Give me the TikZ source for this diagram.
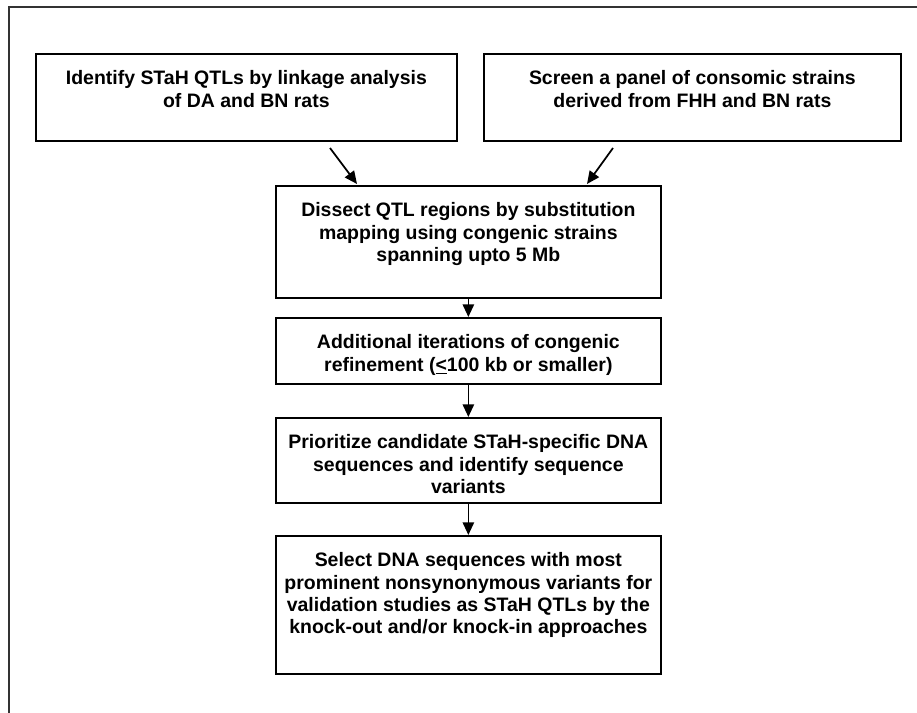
\documentclass[tikz,border=0pt]{standalone}
\usepackage{fontspec}
\setmainfont{Liberation Sans}
\usetikzlibrary{arrows.meta}
\newcommand{\bxt}[3]{\parbox[c][#2][t]{#1}{\centering\vspace*{12.5pt}#3\par}}
\begin{document}
\begin{tikzpicture}[x=0.75pt,y=-0.75pt,
  stepbox/.style={draw, line width=1.3pt, inner sep=0pt, anchor=north west,
    font=\fontsize{14.6pt}{16.8pt}\selectfont\bfseries},
  arr/.style={line width=1.3pt, -{Triangle[length=9.5pt,width=8.5pt]}}]
\useasboundingbox (0,0) rectangle (917,713);
\draw[line width=0.9pt, black!80] (9,713) -- (9,7) -- (917,7);
\node[stepbox] (b1) at (35,53) {\bxt{315.75pt}{65.25pt}{Identify STaH QTLs by linkage analysis\\of DA and BN rats}};
\node[stepbox] (b2) at (483,53) {\bxt{312.75pt}{65.25pt}{Screen a panel of consomic strains\\derived from FHH and BN rats}};
\node[stepbox] (b3) at (275,185) {\bxt{288.75pt}{84pt}{Dissect QTL regions by substitution\\mapping using congenic strains\\spanning upto 5 Mb}};
\node[stepbox] (b4) at (275,317) {\bxt{288.75pt}{49.5pt}{Additional iterations of congenic\\refinement (\underline{<}100 kb or smaller)}};
\node[stepbox] (b5) at (275,417) {\bxt{288.75pt}{63.75pt}{Prioritize candidate STaH-specific DNA\\sequences and identify sequence\\variants}};
\node[stepbox] (b6) at (275,535) {\bxt{288.75pt}{103.5pt}{Select DNA sequences with most\\prominent nonsynonymous variants for\\validation studies as STaH QTLs by the\\knock-out and/or knock-in approaches}};
\coordinate (l1) at (330,148);
\coordinate (l2) at (357,184);
\coordinate (r1) at (613,148);
\coordinate (r2) at (587,184);
\draw[arr] (l1) -- (l2);
\draw[arr] (r1) -- (r2);
\draw[arr] (b3.south) -- (b4.north);
\draw[arr] (b4.south) -- (b5.north);
\draw[arr] (b5.south) -- (b6.north);
\end{tikzpicture}
\end{document}
